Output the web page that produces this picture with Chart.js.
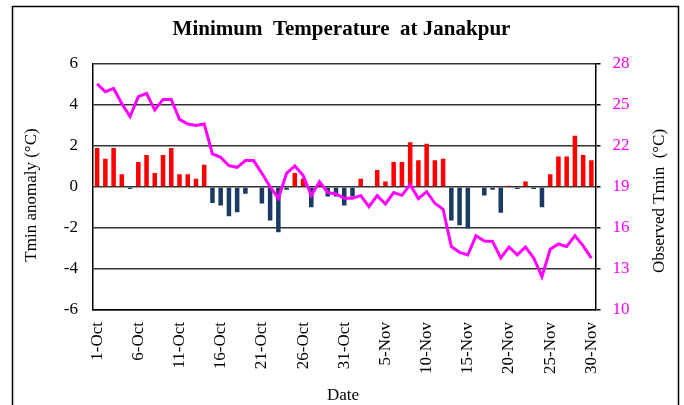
<!DOCTYPE html>
<html>
<head>
<meta charset="utf-8">
<script src="https://cdn.jsdelivr.net/npm/chart.js@4/dist/chart.umd.min.js"></script>
<style>
html,body{margin:0;padding:0;background:#fff;}
#wrap{width:684px;height:405px;position:relative;}
</style>
</head>
<body>
<div id="wrap"><canvas id="c" width="684" height="405"></canvas></div>
<script>
const dates = ["1-Oct","2-Oct","3-Oct","4-Oct","5-Oct","6-Oct","7-Oct","8-Oct","9-Oct","10-Oct",
"11-Oct","12-Oct","13-Oct","14-Oct","15-Oct","16-Oct","17-Oct","18-Oct","19-Oct","20-Oct",
"21-Oct","22-Oct","23-Oct","24-Oct","25-Oct","26-Oct","27-Oct","28-Oct","29-Oct","30-Oct","31-Oct",
"1-Nov","2-Nov","3-Nov","4-Nov","5-Nov","6-Nov","7-Nov","8-Nov","9-Nov","10-Nov",
"11-Nov","12-Nov","13-Nov","14-Nov","15-Nov","16-Nov","17-Nov","18-Nov","19-Nov","20-Nov",
"21-Nov","22-Nov","23-Nov","24-Nov","25-Nov","26-Nov","27-Nov","28-Nov","29-Nov","30-Nov"];

const tminAnomaly = [1.90,1.38,1.90,0.62,-0.10,1.22,1.56,0.68,1.56,1.90,
0.62,0.62,0.40,1.09,-0.78,-0.90,-1.43,-1.23,-0.33,0,
-0.80,-1.63,-2.21,-0.13,0.68,0.40,-0.99,0.10,-0.46,-0.46,-0.90,
-0.46,0.40,0,0.83,0.27,1.22,1.22,2.18,1.30,2.11,
1.30,1.38,-1.63,-1.87,-2.03,0,-0.41,-0.13,-1.25,0.06,
-0.10,0.27,-0.10,-0.99,0.62,1.49,1.49,2.50,1.56,1.30];

const observedTmin = [26.54,25.97,26.22,25.10,24.15,25.61,25.85,24.63,25.41,25.41,
23.95,23.61,23.50,23.61,21.42,21.17,20.56,20.44,20.93,20.93,
20.00,19.02,18.17,20.00,20.54,19.85,18.38,19.39,18.59,18.49,18.17,
18.17,18.37,17.56,18.37,17.76,18.59,18.39,19.17,18.15,18.66,
17.81,17.37,14.64,14.22,14.03,15.44,15.05,15.02,13.81,14.61,
14.03,14.61,13.81,12.44,14.44,14.83,14.64,15.44,14.69,13.79];

const anomalyTicks = [-6,-4,-2,0,2,4,6];
const observedTicks = [10,13,16,19,22,25,28];

const FONT = "'Liberation Serif','Times New Roman',serif";

const decor = {
  id: 'decor',
  afterDraw(chart) {
    const ctx = chart.ctx;
    ctx.save();
    ctx.strokeStyle = '#000';
    ctx.lineWidth = 1.5;
    ctx.strokeRect(12.5, 6.5, 666, 420);
    ctx.fillStyle = '#000';
    ctx.textAlign = 'center';
    ctx.textBaseline = 'alphabetic';
    ctx.font = "bold 21px " + FONT;
    ctx.fillText("Minimum  Temperature  at Janakpur", 341.5, 35);
    ctx.font = "17px " + FONT;
    ctx.fillText("Date", 343, 400);
    ctx.save();
    ctx.translate(35.5, 195);
    ctx.rotate(-Math.PI/2);
    ctx.fillText("Tmin anomaly (°C)", 0, 0);
    ctx.restore();
    ctx.save();
    ctx.translate(664, 201);
    ctx.rotate(-Math.PI/2);
    ctx.fillText("Observed Tmin  (°C)", 0, 0);
    ctx.restore();
    ctx.restore();
  }
};

new Chart(document.getElementById('c'), {
  data: {
    labels: dates,
    datasets: [
      {
        type: 'line',
        label: 'Observed Tmin',
        data: observedTmin,
        yAxisID: 'y1',
        borderColor: '#FF00FF',
        borderWidth: 3,
        pointRadius: 0,
        tension: 0,
        fill: false,
        order: 0
      },
      {
        type: 'bar',
        label: 'Tmin anomaly',
        data: tminAnomaly,
        yAxisID: 'y',
        backgroundColor: tminAnomaly.map(v => v >= 0 ? '#FF0000' : '#1B3A63'),
        barPercentage: 0.55,
        categoryPercentage: 1.0,
        order: 1
      }
    ]
  },
  options: {
    responsive: false,
    animation: false,
    layout: { padding: { top: 64, left: 0, right: 0, bottom: 0 } },
    plugins: { legend: { display: false }, tooltip: { enabled: false }, title: { display: false } },
    scales: {
      x: {
        type: 'category',
        offset: true,
        grid: { display: false, drawTicks: false },
        border: { display: true, color: '#000', width: 1.5 },
        ticks: {
          autoSkip: false,
          maxRotation: 90,
          minRotation: 90,
          padding: 12,
          color: '#000',
          font: { family: FONT, size: 17 },
          callback: function(v, i) { return i % 5 === 0 ? dates[i] : ''; }
        },
        afterFit(s) { s.height = 95; }
      },
      y: {
        position: 'left',
        min: -6, max: 6,
        afterBuildTicks(s) { s.ticks = anomalyTicks.map(v => ({ value: v })); },
        grid: { color: '#333', lineWidth: 1.5, drawTicks: false },
        border: { display: true, color: '#000', width: 1.5 },
        ticks: { color: '#000', padding: 15, font: { family: FONT, size: 17 } },
        afterFit(s) { s.width = 93; }
      },
      y1: {
        position: 'right',
        min: 10, max: 28,
        afterBuildTicks(s) { s.ticks = observedTicks.map(v => ({ value: v })); },
        grid: { drawOnChartArea: false, drawTicks: true, tickLength: 5, color: '#000', lineWidth: 1.5 },
        border: { display: true, color: '#000', width: 1.5 },
        ticks: { color: '#FF00FF', padding: 12, font: { family: FONT, size: 17 } },
        afterFit(s) { s.width = 88.5; }
      }
    }
  },
  plugins: [decor]
});
</script>
</body>
</html>
